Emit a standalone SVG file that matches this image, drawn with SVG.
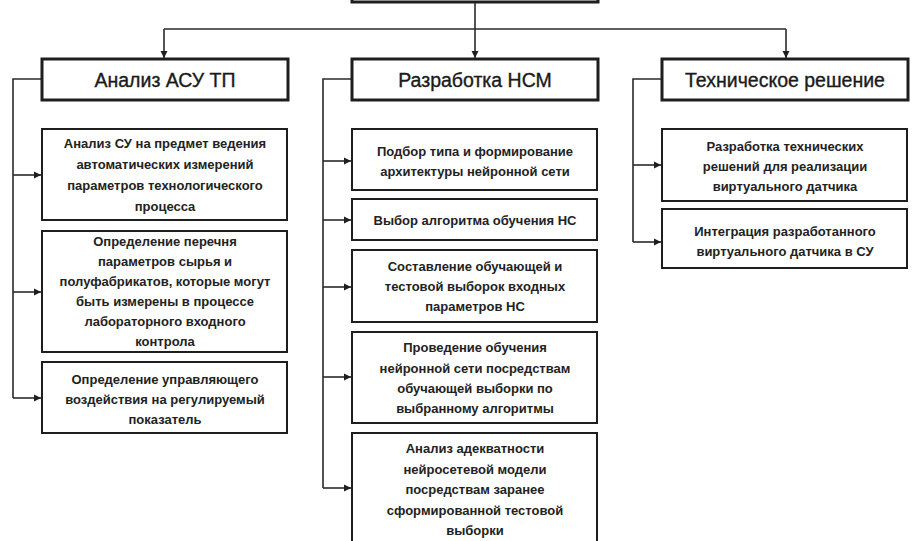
<svg xmlns="http://www.w3.org/2000/svg" width="912" height="541" viewBox="0 0 912 541">
  <style>
    .head { fill: #ffffff; stroke: #1e1e1e; stroke-width: 3; }
    .item { fill: #ffffff; stroke: #1e1e1e; stroke-width: 2; }
    .wire { fill: none; stroke: #2a2a2a; stroke-width: 1.6; }
    .ht { font-family: "Liberation Sans", Arial, sans-serif; font-size: 19.5px; fill: #1a1a1a; text-anchor: middle; stroke: #1a1a1a; stroke-width: 0.35; }
    .it { font-family: "Liberation Sans", Arial, sans-serif; font-size: 13px; font-weight: bold; fill: #222222; text-anchor: middle; }
  </style>
  <defs>
    <marker id="arr" markerWidth="8" markerHeight="8" refX="7" refY="4" orient="auto" markerUnits="userSpaceOnUse">
      <path d="M0,0.5 L7,4 L0,7.5 Z" fill="#1e1e1e"/>
    </marker>
  </defs>
  <rect width="912" height="541" fill="#ffffff"/>

  <!-- root box, mostly above the page edge -->
  <g id="root">
    <rect class="head" x="352" y="-20" width="246" height="22"/>
  </g>

  <!-- connectors -->
  <g id="connectors">
    <path class="wire" d="M475,3 V58" marker-end="url(#arr)"/>
    <path class="wire" d="M164,29 H786"/>
    <path class="wire" d="M164,29 V58" marker-end="url(#arr)"/>
    <path class="wire" d="M786,29 V58" marker-end="url(#arr)"/>

    <!-- left branch -->
    <path class="wire" d="M42,79 H13 V398"/>
    <path class="wire" d="M13,175 H41" marker-end="url(#arr)"/>
    <path class="wire" d="M13,292 H41" marker-end="url(#arr)"/>
    <path class="wire" d="M13,398 H41" marker-end="url(#arr)"/>

    <!-- middle branch -->
    <path class="wire" d="M352,79 H323 V488"/>
    <path class="wire" d="M323,161 H351" marker-end="url(#arr)"/>
    <path class="wire" d="M323,220 H351" marker-end="url(#arr)"/>
    <path class="wire" d="M323,287 H351" marker-end="url(#arr)"/>
    <path class="wire" d="M323,377 H351" marker-end="url(#arr)"/>
    <path class="wire" d="M323,488 H351" marker-end="url(#arr)"/>

    <!-- right branch -->
    <path class="wire" d="M662,79 H633 V242"/>
    <path class="wire" d="M633,165 H661" marker-end="url(#arr)"/>
    <path class="wire" d="M633,242 H661" marker-end="url(#arr)"/>
  </g>

  <!-- level 1 -->
  <g id="asu">
    <rect class="head" x="42" y="59" width="246" height="41"/>
    <text class="ht" x="165" y="86.5">Анализ АСУ ТП</text>
  </g>
  <g id="nsm">
    <rect class="head" x="352" y="59" width="246" height="41"/>
    <text class="ht" x="475" y="86.5">Разработка НСМ</text>
  </g>
  <g id="tech">
    <rect class="head" x="662" y="59" width="246" height="41"/>
    <text class="ht" x="785" y="86.5">Техническое решение</text>
  </g>

  <!-- left column -->
  <g id="a1">
    <rect class="item" x="42" y="129" width="245" height="91"/>
    <text class="it" x="165" y="147.5">Анализ СУ на предмет ведения</text>
    <text class="it" x="165" y="168.5">автоматических измерений</text>
    <text class="it" x="165" y="189.5">параметров технологического</text>
    <text class="it" x="165" y="210.5">процесса</text>
  </g>
  <g id="a2">
    <rect class="item" x="42" y="231" width="245" height="121"/>
    <text class="it" x="165" y="246">Определение перечня</text>
    <text class="it" x="165" y="266">параметров сырья и</text>
    <text class="it" x="165" y="286">полуфабрикатов, которые могут</text>
    <text class="it" x="165" y="306">быть измерены в процессе</text>
    <text class="it" x="165" y="326">лабораторного входного</text>
    <text class="it" x="165" y="346">контрола</text>
  </g>
  <g id="a3">
    <rect class="item" x="42" y="362" width="245" height="71"/>
    <text class="it" x="165" y="383.5">Определение управляющего</text>
    <text class="it" x="165" y="403.5">воздействия на регулируемый</text>
    <text class="it" x="165" y="423.5">показатель</text>
  </g>

  <!-- middle column -->
  <g id="b1">
    <rect class="item" x="352" y="129" width="245" height="61"/>
    <text class="it" x="475" y="155.5">Подбор типа и формирование</text>
    <text class="it" x="475" y="175.5">архитектуры нейронной сети</text>
  </g>
  <g id="b2">
    <rect class="item" x="352" y="199" width="245" height="41"/>
    <text class="it" x="475" y="224.5">Выбор алгоритма обучения НС</text>
  </g>
  <g id="b3">
    <rect class="item" x="352" y="250" width="245" height="72"/>
    <text class="it" x="475" y="270.5">Составление обучающей и</text>
    <text class="it" x="475" y="290.5">тестовой выборок входных</text>
    <text class="it" x="475" y="310.5">параметров НС</text>
  </g>
  <g id="b4">
    <rect class="item" x="352" y="332" width="245" height="91"/>
    <text class="it" x="475" y="351.5">Проведение обучения</text>
    <text class="it" x="475" y="372.5">нейронной сети посредствам</text>
    <text class="it" x="475" y="392.5">обучающей выборки по</text>
    <text class="it" x="475" y="412.5">выбранному алгоритмы</text>
  </g>
  <g id="b5">
    <rect class="item" x="352" y="433" width="245" height="120"/>
    <text class="it" x="475" y="452.5">Анализ адекватности</text>
    <text class="it" x="475" y="473.5">нейросетевой модели</text>
    <text class="it" x="475" y="493.5">посредствам заранее</text>
    <text class="it" x="475" y="514.5">сформированной тестовой</text>
    <text class="it" x="475" y="534.5">выборки</text>
  </g>

  <!-- right column -->
  <g id="c1">
    <rect class="item" x="662" y="129" width="245" height="72"/>
    <text class="it" x="785" y="150.5">Разработка технических</text>
    <text class="it" x="785" y="170.5">решений для реализации</text>
    <text class="it" x="785" y="190.5">виртуального датчика</text>
  </g>
  <g id="c2">
    <rect class="item" x="662" y="209" width="245" height="59"/>
    <text class="it" x="785" y="235.5">Интеграция разработанного</text>
    <text class="it" x="785" y="255.5">виртуального датчика в СУ</text>
  </g>
</svg>
